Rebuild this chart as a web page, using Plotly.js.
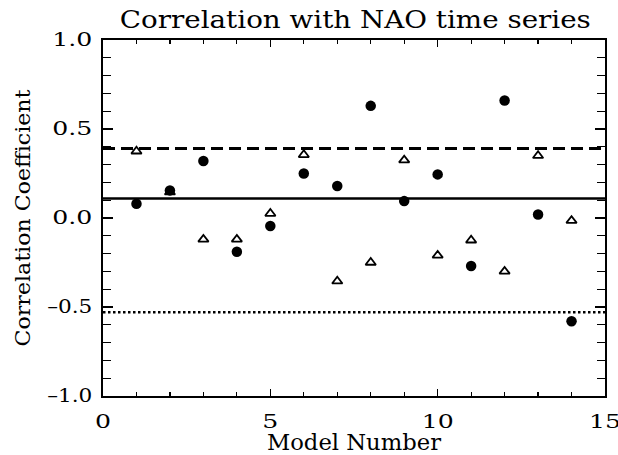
<!DOCTYPE html>
<html>
<head>
<meta charset="utf-8">
<script src="https://cdn.plot.ly/plotly-3.0.1.min.js"></script>
<style>
html,body{margin:0;padding:0;background:#fff}
#chart{width:618px;height:455px}
</style>
</head>
<body>
<div id="chart"></div>
<script>
var modelNumbers = [1,2,3,4,5,6,7,8,9,10,11,12,13,14];
var circleValues = [0.08,0.155,0.32,-0.19,-0.045,0.25,0.18,0.63,0.095,0.245,-0.27,0.66,0.02,-0.58];
var triangleValues = [0.375,0.145,-0.12,-0.12,0.025,0.355,-0.355,-0.25,0.325,-0.21,-0.125,-0.30,0.35,-0.015];
var lineX = [0, 15];
var dashedLevel = [0.39];
var solidLevel = [0.11];
var dottedLevel = [-0.53];
var xTickVals = [0,5,10,15];
var xTickText = ['0','5','10','15'];
var yTickVals = [-1.0,-0.5,0.0,0.5,1.0];
var yTickText = ['\u20131.0','\u20130.5','0.0','0.5','1.0'];

var serif = 'DejaVu Serif, Liberation Serif, serif';

function hline(level, dash, width){
  return {x: lineX, y: [level[0], level[0]], mode:'lines', type:'scatter',
    line:{color:'#000', width:width, dash:dash}, hoverinfo:'skip', showlegend:false};
}

var traces = [
  hline(dashedLevel, '12px,6px', 3),
  hline(solidLevel, 'solid', 2.5),
  hline(dottedLevel, '2.5px,2.5px', 2.5),
  {x: modelNumbers, y: triangleValues, mode:'markers', type:'scatter',
   marker:{symbol:'triangle-up-open', size:9, color:'#000', line:{width:1.8, color:'#000'}}, showlegend:false},
  {x: modelNumbers, y: circleValues, mode:'markers', type:'scatter',
   marker:{symbol:'circle', size:10.5, color:'#000'}, showlegend:false}
];

var layout = {
  width:618, height:455,
  margin:{l:103, r:13, t:40, b:59, pad:0},
  paper_bgcolor:'#fff', plot_bgcolor:'#fff',
  showlegend:false,
  title:{text:'Correlation with NAO time series', font:{family:serif, size:25, color:'#000'}, x:0.575, xanchor:'center', y:0.958, yanchor:'middle'},
  xaxis:{range:[0,15], tickvals:xTickVals, ticktext:xTickText, ticks:'inside', ticklen:7, tickwidth:1.5, tickcolor:'#000',
    showline:true, linecolor:'#000', linewidth:2, mirror:'ticks', showgrid:false, zeroline:false,
    minor:{dtick:1, ticks:'inside', ticklen:4, tickwidth:1.2, tickcolor:'#000', showgrid:false},
    tickfont:{family:serif, size:18, color:'#000'}, ticklabelstandoff:8,
    title:{text:'Model Number', font:{family:serif, size:22, color:'#000'}, standoff:2}},
  yaxis:{range:[-1,1], tickvals:yTickVals, ticktext:yTickText, ticks:'inside', ticklen:10, tickwidth:1.5, tickcolor:'#000',
    showline:true, linecolor:'#000', linewidth:2, mirror:'ticks', showgrid:false, zeroline:false,
    minor:{dtick:0.1, ticks:'inside', ticklen:8, tickwidth:1.2, tickcolor:'#000', showgrid:false},
    tickfont:{family:serif, size:18, color:'#000'}, ticklabelstandoff:5,
    title:{text:'Correlation Coefficient', font:{family:serif, size:21, color:'#000'}, standoff:18}}
};

Plotly.newPlot('chart', traces, layout, {displayModeBar:false, staticPlot:true}).then(function(gd){
  function stretch(sel, fn){
    gd.querySelectorAll(sel).forEach(function(t){
      var w = t.getComputedTextLength();
      if(!w) return;
      t.setAttribute('textLength', fn(t, w));
      t.setAttribute('lengthAdjust', 'spacingAndGlyphs');
    });
  }
  stretch('.gtitle', function(){ return 471; });
  stretch('.xtitle', function(){ return 174; });
  stretch('.ytitle', function(){ return 257; });
  stretch('.xtick text, .ytick text', function(t, w){
    return (t.textContent.charAt(0) === '\u2013') ? w * 1.2 : w * 1.4;
  });
});
</script>
</body>
</html>
